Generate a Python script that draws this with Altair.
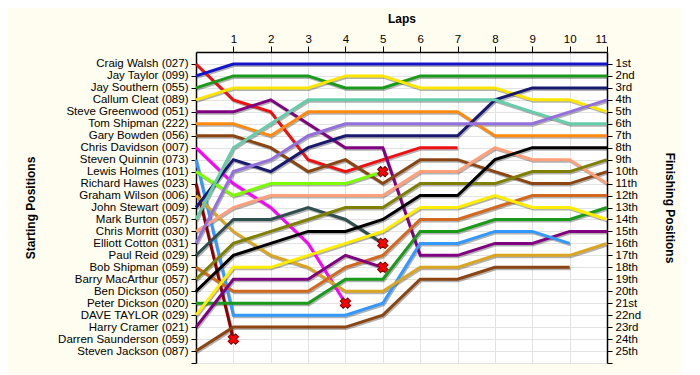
import altair as alt
import pandas as pd

drivers = [
    "Craig Walsh (027)", "Jay Taylor (099)", "Jay Southern (055)", "Callum Cleat (089)",
    "Steve Greenwood (051)", "Tom Shipman (222)", "Gary Bowden (056)", "Chris Davidson (007)",
    "Steven Quinnin (073)", "Lewis Holmes (101)", "Richard Hawes (023)", "Graham Wilson (006)",
    "John Stewart (009)", "Mark Burton (057)", "Chris Morritt (030)", "Elliott Cotton (031)",
    "Paul Reid (029)", "Bob Shipman (059)", "Barry MacArthur (057)", "Ben Dickson (050)",
    "Peter Dickson (020)", "DAVE TAYLOR (029)", "Harry Cramer (021)", "Darren Saunderson (059)",
    "Steven Jackson (087)",
]

colors = [
    "#ee1111", "#1414c8", "#1a9a1a", "#ffe600",
    "#800080", "#ff8a10", "#8b4513", "#ff00ff",
    "#3399ff", "#7cfc00", "#8b0000", "#daa520",
    "#191970", "#66cdaa", "#ffa07a", "#9370db",
    "#2f4f4f", "#d2691e", "#808000", "#000000",
    "#1a9a1a", "#ffee00", "#800080", "#8b0000",
    "#8b4513",
]

# Position at lap 0 (start) .. last lap completed
positions = [
    [1, 4, 5, 9, 10, 9, 8, 8],
    [2, 1, 1, 1, 1, 1, 1, 1, 1, 1, 1, 1],
    [3, 2, 2, 2, 3, 3, 2, 2, 2, 2, 2, 2],
    [4, 3, 3, 3, 2, 2, 3, 3, 3, 4, 4, 5],
    [5, 5, 4, 6, 8, 8, 17, 17, 16, 16, 15, 15],
    [6, 6, 7, 5, 5, 5, 5, 5, 7, 7, 7, 7],
    [7, 7, 8, 10, 9, 11, 9, 9, 10, 11, 11, 10],
    [8, 11, 13, 16, 21],
    [9, 22, 22, 22, 22, 21, 16, 16, 15, 15, 16],
    [10, 12, 11, 11, 11, 10],
    [11, 24],
    [12, 15, 17, 18, 20, 20, 18, 18, 17, 17, 17, 16],
    [13, 9, 10, 8, 7, 7, 7, 7, 4, 3, 3, 3],
    [14, 8, 6, 4, 4, 4, 4, 4, 4, 5, 6, 6],
    [15, 13, 12, 12, 12, 12, 10, 10, 8, 9, 9, 11],
    [16, 10, 9, 7, 6, 6, 6, 6, 6, 6, 5, 4],
    [17, 14, 14, 13, 14, 16],
    [18, 20, 20, 20, 18, 17, 14, 14, 13, 12, 12, 12],
    [19, 16, 15, 14, 13, 13, 11, 11, 11, 10, 10, 9],
    [20, 17, 16, 15, 15, 14, 12, 12, 9, 8, 8, 8],
    [21, 21, 21, 21, 19, 19, 15, 15, 14, 14, 14, 13],
    [22, 18, 18, 17, 16, 15, 13, 13, 12, 13, 13, 14],
    [23, 19, 19, 19, 17, 18],
    [],
    [25, 23, 23, 23, 23, 22, 19, 19, 18, 18, 18],
]

retired = [
    "Chris Davidson (007)", "Lewis Holmes (101)", "Richard Hawes (023)",
    "Paul Reid (029)", "Harry Cramer (021)",
]

finish_labels = [
    "1st", "2nd", "3rd", "4th", "5th", "6th", "7th", "8th", "9th", "10th",
    "11th", "12th", "13th", "14th", "15th", "16th", "17th", "18th", "19th", "20th",
    "21st", "22nd", "23rd", "24th", "25th",
]

lap_ticks = list(range(1, 12))

rows = []
for name, plist in zip(drivers, positions):
    for lap, pos in enumerate(plist):
        rows.append({"driver": name, "lap": lap, "pos": pos})
df = pd.DataFrame(rows)

ret_rows = []
for name, plist in zip(drivers, positions):
    if name in retired and plist:
        ret_rows.append({"driver": name, "lap": len(plist) - 1, "pos": plist[-1]})
ret_df = pd.DataFrame(ret_rows)

left_arr = "[''," + ",".join("'" + d + "'" for d in drivers) + ",'']"
right_arr = "[''," + ",".join("'" + d + "'" for d in finish_labels) + ",'']"

FONT = "Liberation Sans"
LABEL_SIZE = 11.5

x_scale = alt.Scale(domain=[0, 11], nice=False, zero=False)
y_scale = alt.Scale(domain=[0, 26], reverse=True, nice=False, zero=False)

x_axis = alt.Axis(
    orient="top", values=lap_ticks, title="Laps", titleFontWeight="bold",
    titleFont=FONT, titleFontSize=12, titlePadding=8, labelFont=FONT, labelFontSize=LABEL_SIZE,
    labelColor="#000000", domainColor="#000000", domainWidth=1.5, tickColor="#000000",
    tickSize=6, labelPadding=2, grid=True, gridColor="#e3e3e3", labelAngle=0,
)

y_values = list(range(1, 27))

left_axis = alt.Axis(
    orient="left", values=y_values, labelExpr=left_arr + "[datum.value]",
    title="Starting Positions", titleFontWeight="bold", titleFont=FONT, titleFontSize=12,
    titlePadding=20, labelFont=FONT, labelFontSize=LABEL_SIZE, labelColor="#000000",
    domainColor="#000000", domainWidth=1.5, tickColor="#000000", tickSize=5,
    labelPadding=3, grid=True, gridColor="#e3e3e3", labelOverlap=False, labelBound=False,
)

right_axis = alt.Axis(
    orient="right", values=y_values, labelExpr=right_arr + "[datum.value]",
    title="Finishing Positions", titleFontWeight="bold", titleFont=FONT, titleFontSize=12,
    titlePadding=22, labelFont=FONT, labelFontSize=LABEL_SIZE, labelColor="#000000",
    domainColor="#000000", domainWidth=1.5, tickColor="#000000", tickSize=5,
    labelPadding=3, grid=False, labelOverlap=False, labelBound=False,
)

color = alt.Color("driver:N", scale=alt.Scale(domain=drivers, range=colors), legend=None)

shadow = alt.Chart(df).mark_line(
    strokeWidth=3, color="#000000", opacity=0.3, xOffset=1, yOffset=1.5
).encode(
    x=alt.X("lap:Q", scale=x_scale, axis=x_axis),
    y=alt.Y("pos:Q", scale=y_scale, axis=left_axis),
    detail="driver:N",
)

lines = alt.Chart(df).mark_line(strokeWidth=3).encode(
    x=alt.X("lap:Q", scale=x_scale, axis=x_axis),
    y=alt.Y("pos:Q", scale=y_scale, axis=right_axis),
    color=color,
    detail="driver:N",
)

marks = alt.Chart(ret_df).mark_point(
    shape="cross", angle=45, size=110, filled=True, fill="#ff0000",
    stroke="#7a0000", strokeWidth=1, opacity=1,
).encode(
    x=alt.X("lap:Q", scale=x_scale, axis=x_axis),
    y=alt.Y("pos:Q", scale=y_scale, axis=None),
)

chart = alt.layer(shadow, lines, marks).resolve_axis(y="independent").properties(
    width=411, height=311, background="#fffdf0",
    padding={"left": 16, "top": 4, "right": 5, "bottom": 5},
).configure_view(fill="#ffffff", stroke="#e3e3e3")

chart.save("out.html", embed_options={"renderer": "svg", "actions": False})
